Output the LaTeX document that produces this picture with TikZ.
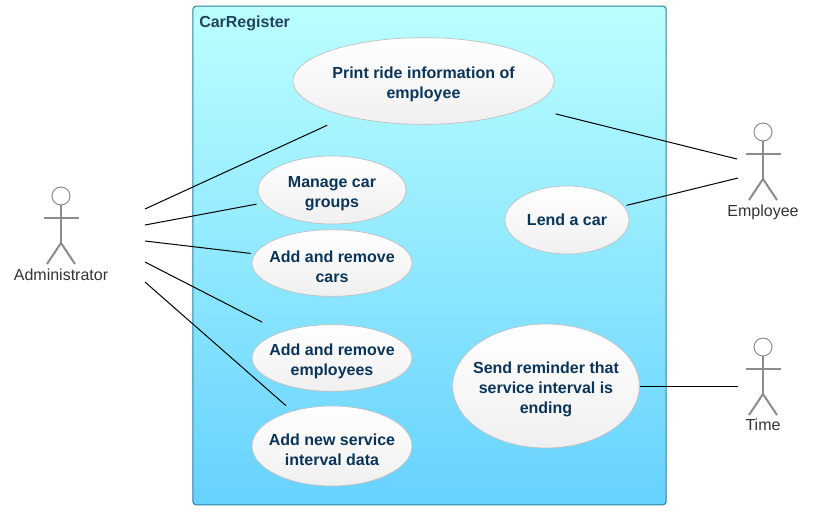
\documentclass[tikz,border=0pt]{standalone}
\usepackage{fontspec}
\setmainfont{Liberation Sans}
\usepackage{xcolor}
\usetikzlibrary{shapes.geometric,positioning,calc}
\definecolor{titlecol}{HTML}{23445A}
\definecolor{usecasecol}{HTML}{0B3558}
\definecolor{sticktone}{HTML}{8C8C8C}
\definecolor{boxedge}{HTML}{2F7F9B}
\definecolor{boxtop}{HTML}{BBFFFF}
\definecolor{boxbottom}{HTML}{66D2FF}
\newcommand{\lift}{\rule{0pt}{14pt}}
\begin{document}
\begin{tikzpicture}[
        x=0.75pt, y=-0.75pt,
        every node/.style={font=\fontsize{12}{15}\selectfont, inner sep=0pt},
        usecase/.style={draw=gray!50, ellipse, line width=0.5pt, top color=white, bottom color=gray!12,
                        inner xsep=-20pt, inner ysep=-12pt,
                        text=usecasecol, font=\fontsize{12}{15}\selectfont\bfseries, align=center},
        actorlabel/.style={text=black!80, text height=9pt, text depth=2.6pt},
        assoc/.style={draw=black, line width=0.75pt},
        actor/.pic={
            \draw[sticktone, line width=0.75pt, fill=white] (0,0) circle (9);
            \draw[sticktone, line width=1.5pt] (0,9) -- (0,47);
            \draw[sticktone, line width=1.5pt] (-17.5,22) -- (17.5,22);
            \draw[sticktone, line width=1.5pt] (-14,68) -- (0,47) -- (14,68);
        },
    ]
        \useasboundingbox (0,0) rectangle (814,512);

        % --- System boundary ---
        \node[draw=boxedge, line width=0.75pt, rounded corners=2.5pt, top color=boxtop, bottom color=boxbottom,
              minimum width=355pt, minimum height=374pt] (system) at (429.5,255.5) {};
        \node[anchor=west, text=titlecol, font=\fontsize{12}{15}\selectfont\bfseries] (systemtitle) at (199,23.5) {CarRegister};

        % --- Use cases ---
        \node[usecase, minimum width=196pt, minimum height=65pt] (print)     at (423.5,81) {\lift Print ride information of\\employee};
        \node[usecase, minimum width=111pt, minimum height=51pt] (groups)    at (332,190)  {\lift Manage car\\groups};
        \node[usecase, minimum width=120pt, minimum height=50pt] (cars)      at (332,263)  {\lift Add and remove\\cars};
        \node[usecase, minimum width=120pt, minimum height=50pt] (employees) at (332,358)  {\lift Add and remove\\employees};
        \node[usecase, minimum width=120pt, minimum height=60pt] (service)   at (332,446)  {\lift Add new service\\interval data};
        \node[usecase, minimum width=93pt,  minimum height=51pt] (lend)      at (567,220)  {Lend a car};
        \node[usecase, minimum width=140pt, minimum height=93pt] (reminder)  at (546,386)  {\lift Send reminder that\\service interval is\\ending};

        % --- Actors ---
        \pic at (61,196) {actor};
        \pic at (763,132) {actor};
        \pic at (763,347) {actor};
        \node[actorlabel] (admin)    at (61,276.7)  {Administrator};
        \node[actorlabel] (employee) at (763,212.2) {Employee};
        \node[actorlabel] (time)     at (763,426.7) {Time};

        % --- Free ends next to the actors ---
        \coordinate (adminA) at (145,209);
        \coordinate (adminB) at (145,225);
        \coordinate (adminC) at (145,241);
        \coordinate (adminD) at (145,262);
        \coordinate (adminE) at (145,282);
        \coordinate (employeeA) at (737,159);
        \coordinate (employeeB) at (738,178);
        \coordinate (timeA) at (738,386);

        % --- Associations ---
        \draw[assoc, shorten >=16pt] (adminA) -- (print);
        \draw[assoc, shorten >=5pt]  (adminB) -- (groups);
        \draw[assoc, shorten >=3pt] (adminC) -- (cars);
        \draw[assoc, shorten >=16pt] (adminD) -- (employees);
        \draw[assoc, shorten >=6pt]  (adminE) -- (service);
        \draw[assoc, shorten >=21pt] (employeeA) -- (print);
        \draw[assoc, shorten >=2pt]  (employeeB) -- (lend);
        \draw[assoc] (timeA) -- (reminder);

    \end{tikzpicture}
\end{document}
